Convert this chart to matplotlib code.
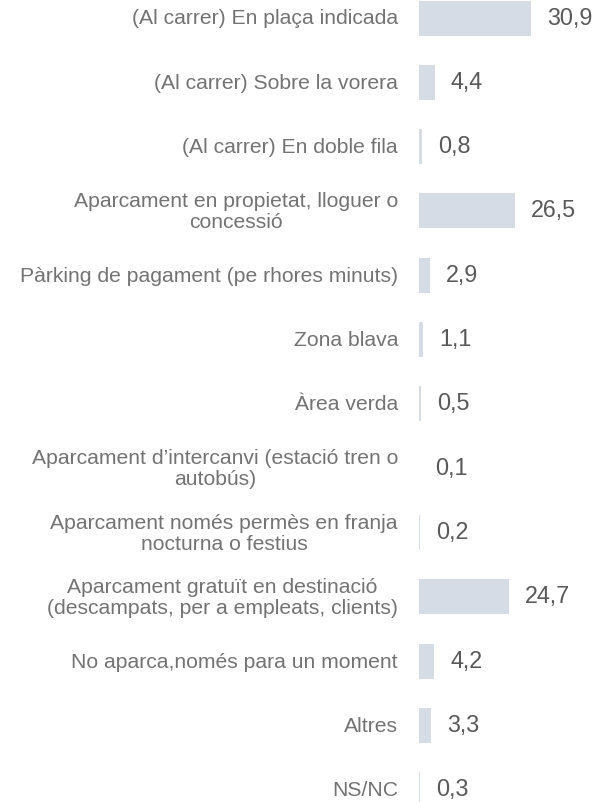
import matplotlib
matplotlib.use("Agg")
import matplotlib.pyplot as plt

categories = [
    "(Al carrer) En plaça indicada",
    "(Al carrer) Sobre la vorera",
    "(Al carrer) En doble fila",
    "Aparcament en propietat, lloguer o\nconcessió",
    "Pàrking de pagament (pe rhores minuts)",
    "Zona blava",
    "Àrea verda",
    "Aparcament d\u2019intercanvi (estació tren o\nautobús)",
    "Aparcament només permès en franja\nnocturna o festius",
    "Aparcament gratuït en destinació\n(descampats, per a empleats, clients)",
    "No aparca,només para un moment",
    "Altres",
    "NS/NC",
]
values = [30.9, 4.4, 0.8, 26.5, 2.9, 1.1, 0.5, 0.1, 0.2, 24.7, 4.2, 3.3, 0.3]
value_labels = ["30,9", "4,4", "0,8", "26,5", "2,9", "1,1", "0,5", "0,1", "0,2", "24,7", "4,2", "3,3", "0,3"]

plt.rcParams['font.family'] = ['Liberation Sans', 'DejaVu Sans']

W, H = 598, 802
fig = plt.figure(figsize=(W / 100, H / 100), dpi=100)
x0 = 419
ax = fig.add_axes([x0 / W, 0, 1 - x0 / W, 1])
ppu = 112 / 30.9
ax.set_xlim(0, (W - x0) / ppu)
step = 64.33
ax.set_ylim((H - 18) / step, -18 / step)

pos = list(range(len(categories)))
ax.barh(pos, values, height=35 / step, color="#D6DCE5")
for p, v, lab in zip(pos, values, value_labels):
    ax.annotate(lab, (v, p), xytext=(16, 0), textcoords="offset pixels",
                va="center", ha="left", fontsize=16.8, color="#595959")
for p, c in zip(pos, categories):
    ax.annotate(c, (0, p), xytext=(-21, -1), textcoords="offset pixels",
                va="center", ha="right", multialignment="center",
                fontsize=15.2, color="#737373", linespacing=1.12)

ax.axis("off")
fig.savefig("out.png", dpi=100)
